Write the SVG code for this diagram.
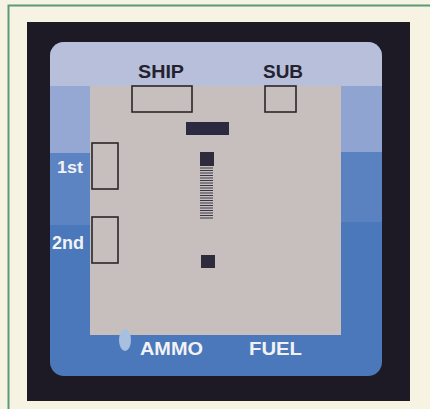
<svg xmlns="http://www.w3.org/2000/svg" width="430" height="409" viewBox="0 0 430 409">
<style>
.lbl{font-family:"Liberation Sans",Arial,sans-serif;font-weight:bold;}
.dark{fill:#24222e;}
.white{fill:#f2f2f6;}
.box{fill:none;stroke:#2a2628;stroke-width:1.6;}
.stripe{stroke:#3a3846;stroke-width:1;}
</style>
<defs>
<clipPath id="screen"><rect x="50" y="42" width="332" height="334" rx="14"/></clipPath>
</defs>
<rect x="0" y="0" width="430" height="409" fill="#f7f3e2"/>
<path d="M8.5 409 V5.5 H430" fill="none" stroke="#5a9a78" stroke-width="2"/>
<rect x="27" y="22" width="383" height="379" fill="#1e1a25"/>
<g id="screen-bg" clip-path="url(#screen)">
<rect x="50" y="42" width="332" height="334" fill="#4a78ba"/>
<rect x="50" y="42" width="332" height="44" fill="#b8bfda"/>
<rect x="50" y="86" width="40" height="67" fill="#95a8d3"/>
<rect x="50" y="153" width="40" height="72" fill="#5d84c2"/>
<rect x="341" y="86" width="41" height="66" fill="#8fa4d0"/>
<rect x="341" y="152" width="41" height="70" fill="#5a82c0"/>
<rect x="90" y="86" width="251" height="249" fill="#c6bfbe"/>
<ellipse cx="125" cy="340" rx="6" ry="11" fill="#a8c0df"/>
</g>
<g id="ship">
<text class="lbl dark" x="138" y="78" font-size="18" textLength="46" lengthAdjust="spacingAndGlyphs">SHIP</text>
<rect class="box" x="132" y="86" width="60" height="26"/>
</g>
<g id="sub">
<text class="lbl dark" x="263" y="78" font-size="18" textLength="40" lengthAdjust="spacingAndGlyphs">SUB</text>
<rect class="box" x="265" y="86" width="31" height="26"/>
</g>
<g id="bar">
<rect x="186" y="122" width="43" height="13" fill="#2c2a40"/>
</g>
<g id="first">
<text class="lbl white" x="57" y="173" font-size="16" textLength="26" lengthAdjust="spacingAndGlyphs">1st</text>
<rect class="box" x="92" y="143" width="26" height="46"/>
</g>
<g id="second">
<text class="lbl white" x="52" y="249" font-size="18" textLength="32" lengthAdjust="spacingAndGlyphs">2nd</text>
<rect class="box" x="92" y="217" width="26" height="46"/>
</g>
<g id="column">
<rect x="200" y="152" width="14" height="14" fill="#2e2b3c"/>
<g class="stripe">
<line x1="200" y1="168" x2="213" y2="168"/>
<line x1="200" y1="170.5" x2="213" y2="170.5"/>
<line x1="200" y1="173" x2="213" y2="173"/>
<line x1="200" y1="175.5" x2="213" y2="175.5"/>
<line x1="200" y1="178" x2="213" y2="178"/>
<line x1="200" y1="180.5" x2="213" y2="180.5"/>
<line x1="200" y1="183" x2="213" y2="183"/>
<line x1="200" y1="185.5" x2="213" y2="185.5"/>
<line x1="200" y1="188" x2="213" y2="188"/>
<line x1="200" y1="190.5" x2="213" y2="190.5"/>
<line x1="200" y1="193" x2="213" y2="193"/>
<line x1="200" y1="195.5" x2="213" y2="195.5"/>
<line x1="200" y1="198" x2="213" y2="198"/>
<line x1="200" y1="200.5" x2="213" y2="200.5"/>
<line x1="200" y1="203" x2="213" y2="203"/>
<line x1="200" y1="205.5" x2="213" y2="205.5"/>
<line x1="200" y1="208" x2="213" y2="208"/>
<line x1="200" y1="210.5" x2="213" y2="210.5"/>
<line x1="200" y1="213" x2="213" y2="213"/>
<line x1="200" y1="215.5" x2="213" y2="215.5"/>
<line x1="200" y1="218" x2="213" y2="218"/>
</g>
<rect x="201" y="255" width="14" height="13" fill="#2e2b3c"/>
</g>
<g id="ammo">
<text class="lbl white" x="140" y="355" font-size="18" textLength="63" lengthAdjust="spacingAndGlyphs">AMMO</text>
</g>
<g id="fuel">
<text class="lbl white" x="249" y="355" font-size="18" textLength="53" lengthAdjust="spacingAndGlyphs">FUEL</text>
</g>
</svg>
